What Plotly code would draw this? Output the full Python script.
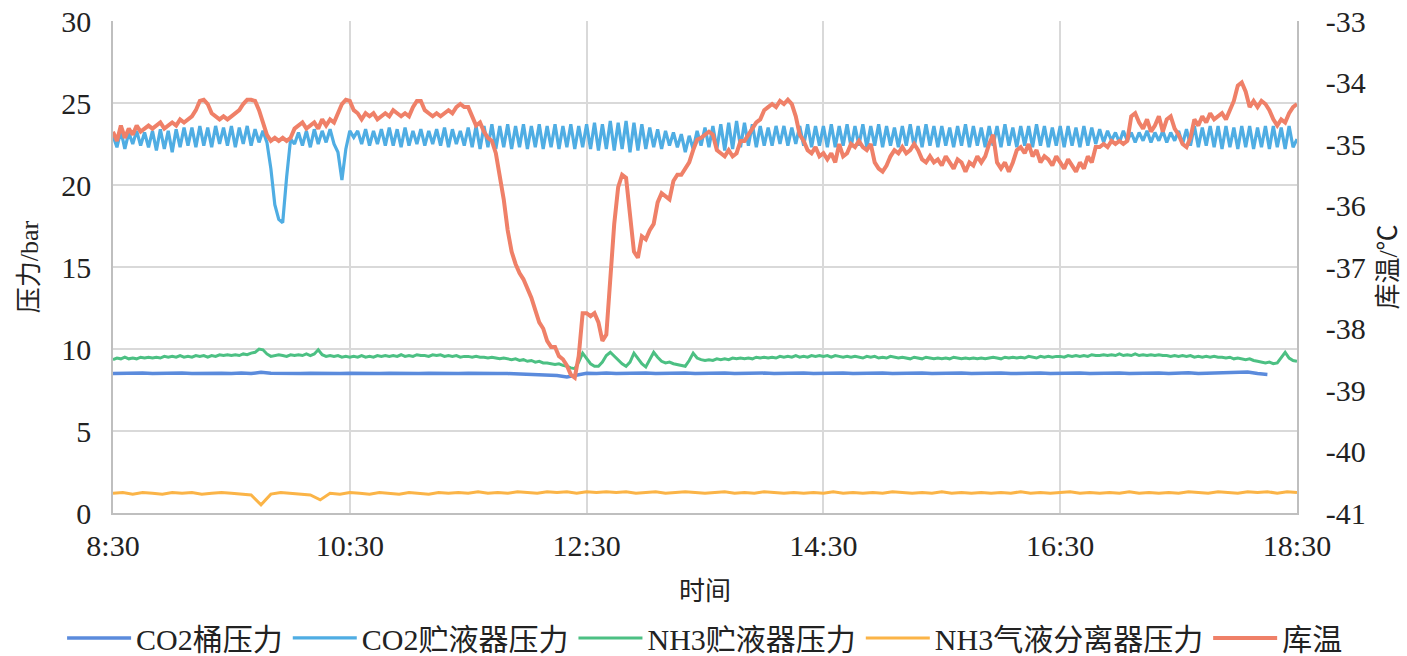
import pandas as pd
import plotly.graph_objects as go

# ---------------- data ----------------
tick_labels = ["8:30", "10:30", "12:30", "14:30", "16:30", "18:30"]
temp_tick_vals = [-41, -40, -39, -38, -37, -36, -35, -34, -33]
temp_tick_labels = ["-41", "-40", "-39", "-38", "-37", "-36", "-35", "-34", "-33"]

# 2-minute samples, 8:30 .. 18:30 (301 points)
co2_receiver = [
    23.0, 22.3, 23.3, 22.2, 23.2, 22.5, 23.3, 22.4, 23.2, 22.3,
    23.3, 22.1, 23.4, 22.2, 23.3, 22.0, 23.4, 22.3, 23.5, 22.4,
    23.5, 22.3, 23.6, 22.4, 23.5, 22.3, 23.6, 22.5, 23.5, 22.4,
    23.6, 22.3, 23.5, 22.5, 23.6, 22.4, 23.4, 22.6, 23.3, 22.6,
    21.0, 18.8, 17.9, 17.7, 20.5, 22.8, 22.5, 23.2, 22.4, 23.3,
    22.3, 23.4, 22.5, 23.3, 22.6, 23.4, 22.5, 22.0, 20.3, 22.2,
    23.3, 22.9, 23.3, 22.5, 23.4, 22.4, 23.3, 22.5, 23.4, 22.4,
    23.5, 22.4, 23.4, 22.3, 23.5, 22.4, 23.3, 22.5, 23.4, 22.4,
    23.3, 22.5, 23.4, 22.4, 23.5, 22.3, 23.4, 22.5, 23.3, 22.4,
    23.5, 22.3, 23.6, 22.2, 23.6, 22.3, 23.7, 22.2, 23.6, 22.3,
    23.7, 22.2, 23.6, 22.3, 23.7, 22.2, 23.6, 22.3, 23.7, 22.2,
    23.6, 22.3, 23.7, 22.2, 23.6, 22.3, 23.7, 22.2, 23.6, 22.3,
    23.7, 22.2, 23.8, 22.1, 23.7, 22.2, 23.9, 22.1, 23.8, 22.2,
    23.9, 22.0, 23.8, 22.1, 23.7, 22.2, 23.5, 22.3, 23.4, 22.2,
    23.3, 22.4, 23.2, 22.3, 23.1, 22.0, 23.0, 22.2, 23.3, 22.4,
    23.5, 22.3, 23.6, 22.2, 23.7, 22.1, 23.8, 22.2, 23.9, 22.3,
    23.8, 22.4, 23.7, 22.3, 23.6, 22.4, 23.5, 22.4, 23.6, 22.5,
    23.6, 22.4, 23.5, 22.5, 23.6, 22.4, 23.7, 22.3, 23.6, 22.4,
    23.6, 22.3, 23.7, 22.3, 23.6, 22.4, 23.7, 22.3, 23.6, 22.4,
    23.7, 22.3, 23.6, 22.4, 23.7, 22.3, 23.6, 22.4, 23.5, 22.3,
    23.6, 22.4, 23.7, 22.3, 23.6, 22.3, 23.7, 22.4, 23.6, 22.3,
    23.6, 22.4, 23.5, 22.3, 23.6, 22.4, 23.7, 22.3, 23.6, 22.4,
    23.5, 22.3, 23.6, 22.4, 23.6, 22.3, 23.7, 22.4, 23.5, 22.3,
    23.6, 22.4, 23.6, 22.3, 23.7, 22.4, 23.6, 22.3, 23.5, 22.4,
    23.6, 22.3, 23.6, 22.4, 23.5, 22.3, 23.6, 22.4, 23.5, 22.5,
    23.4, 22.6, 23.3, 22.7, 23.2, 22.6, 23.3, 22.7, 23.2, 22.6,
    23.2, 22.7, 23.3, 22.6, 23.2, 22.7, 23.3, 22.6, 23.2, 22.7,
    23.3, 22.5, 23.4, 22.4, 23.6, 22.3, 23.5, 22.4, 23.6, 22.3,
    23.6, 22.2, 23.6, 22.3, 23.5, 22.2, 23.6, 22.3, 23.6, 22.2,
    23.5, 22.3, 23.6, 22.2, 23.6, 22.3, 23.5, 22.2, 23.6, 22.3,
    22.8,
]

room_temp = [
    -34.8, -34.95, -34.7, -34.9, -34.75, -34.85, -34.7, -34.8, -34.75, -34.7,
    -34.75, -34.7, -34.65, -34.75, -34.7, -34.65, -34.7, -34.6, -34.65, -34.6,
    -34.55, -34.45, -34.3, -34.28, -34.35, -34.5, -34.55, -34.6, -34.55, -34.6,
    -34.55, -34.5, -34.45, -34.35, -34.28, -34.28, -34.3, -34.45, -34.65, -34.85,
    -34.95, -34.9, -34.95, -34.9, -34.95, -34.9, -34.75, -34.7, -34.65, -34.75,
    -34.7, -34.65, -34.75, -34.6, -34.7, -34.6, -34.65, -34.5, -34.35, -34.28,
    -34.3, -34.45, -34.5, -34.6, -34.5, -34.55, -34.5, -34.6, -34.55, -34.5,
    -34.55, -34.45, -34.5, -34.55, -34.5, -34.55, -34.4, -34.3, -34.3, -34.45,
    -34.5, -34.55, -34.5, -34.55, -34.5, -34.45, -34.5, -34.4, -34.35, -34.4,
    -34.4, -34.55, -34.7, -34.65, -34.8, -34.9, -34.95, -35.15, -35.5, -35.9,
    -36.4, -36.75, -36.95, -37.1, -37.2, -37.35, -37.5, -37.7, -37.9, -38.0,
    -38.2, -38.3, -38.3, -38.45, -38.5, -38.6, -38.75, -38.8, -38.45, -37.75,
    -37.75, -37.8, -37.75, -37.9, -38.2, -38.1, -37.2, -36.3, -35.7, -35.5,
    -35.55, -36.2, -36.75, -36.85, -36.5, -36.55, -36.4, -36.3, -35.95, -35.8,
    -35.85, -35.9, -35.6, -35.5, -35.5, -35.4, -35.3, -35.1, -34.93, -34.9,
    -34.85, -34.8, -34.85, -35.1, -35.15, -35.2, -35.1, -35.2, -35.15, -34.95,
    -34.95, -34.85, -34.75, -34.65, -34.6, -34.45, -34.4, -34.35, -34.4, -34.3,
    -34.35, -34.28, -34.35, -34.55, -34.85, -34.95, -35.1, -35.15, -35.05, -35.2,
    -35.15, -35.25, -35.15, -35.3, -35.0, -35.2, -35.15, -35.0, -35.05, -34.95,
    -35.05, -35.1, -35.0, -35.3, -35.4, -35.45, -35.35, -35.2, -35.1, -35.15,
    -35.05, -35.15, -35.1, -35.0, -35.1, -35.25, -35.3, -35.2, -35.3, -35.25,
    -35.35, -35.2, -35.3, -35.4, -35.25, -35.3, -35.45, -35.3, -35.35, -35.2,
    -35.3, -35.2, -35.0, -34.85, -35.3, -35.4, -35.3, -35.45, -35.3, -35.1,
    -35.05, -35.15, -35.0, -35.2, -35.1, -35.3, -35.2, -35.25, -35.35, -35.2,
    -35.3, -35.4, -35.25, -35.35, -35.45, -35.3, -35.4, -35.2, -35.3, -35.05,
    -35.05, -35.0, -35.05, -34.95, -35.0, -34.95, -35.0, -34.95, -34.55, -34.5,
    -34.65, -34.75, -34.6, -34.8, -34.7, -34.55, -34.8, -34.6, -34.55, -34.75,
    -34.85, -35.0, -35.05, -34.9, -34.6, -34.7, -34.55, -34.65, -34.5, -34.6,
    -34.55, -34.5, -34.6, -34.45, -34.3, -34.05, -34.0, -34.15, -34.4, -34.3,
    -34.4, -34.3, -34.35, -34.45, -34.6, -34.7, -34.6, -34.65, -34.5, -34.4,
    -34.35,
]

nh3_receiver = [
    9.35, 9.45, 9.4, 9.5, 9.4, 9.45, 9.4, 9.5, 9.45, 9.5,
    9.45, 9.5, 9.45, 9.55, 9.5, 9.55, 9.5, 9.6, 9.5, 9.55,
    9.5, 9.6, 9.55, 9.6, 9.5, 9.6, 9.55, 9.65, 9.6, 9.65,
    9.6, 9.65, 9.6, 9.7, 9.65, 9.75, 9.8, 10.0, 9.95, 9.7,
    9.55, 9.6, 9.65, 9.6, 9.55, 9.65, 9.6, 9.65, 9.6, 9.7,
    9.6, 9.7, 9.95, 9.65, 9.55, 9.6, 9.55, 9.6, 9.5, 9.55,
    9.5, 9.55, 9.5, 9.6, 9.5, 9.55, 9.5, 9.6, 9.55, 9.6,
    9.55, 9.6, 9.55, 9.65, 9.55, 9.6, 9.55, 9.65, 9.6, 9.6,
    9.55, 9.65, 9.6, 9.65, 9.55, 9.6, 9.55, 9.6, 9.5, 9.55,
    9.55, 9.5, 9.55, 9.5, 9.5, 9.45, 9.5, 9.45, 9.4, 9.45,
    9.4, 9.35, 9.4, 9.3, 9.35, 9.25, 9.3, 9.2, 9.25, 9.15,
    9.15, 9.1, 9.05, 9.1, 9.0, 8.95, 8.85, 8.8, 9.2, 9.75,
    9.4, 9.1, 8.95, 8.95, 9.2, 9.6, 9.8, 9.55, 9.3, 9.1,
    8.95, 9.2, 9.75, 9.45, 9.1, 8.9, 9.4, 9.8, 9.5, 9.25,
    9.15, 9.2, 9.1, 9.05, 9.0, 8.95, 9.3, 9.75, 9.45, 9.35,
    9.3, 9.35, 9.3, 9.4, 9.35, 9.4, 9.35, 9.45, 9.4, 9.45,
    9.4, 9.45, 9.4, 9.5, 9.45, 9.5, 9.45, 9.5, 9.45, 9.55,
    9.5, 9.55, 9.5, 9.6, 9.5, 9.55, 9.5, 9.6, 9.55, 9.6,
    9.55, 9.6, 9.5, 9.6, 9.55, 9.5, 9.55, 9.5, 9.55, 9.5,
    9.45, 9.55, 9.5, 9.55, 9.45, 9.5, 9.45, 9.55, 9.5, 9.45,
    9.5, 9.45, 9.4, 9.5, 9.45, 9.4, 9.5, 9.45, 9.4, 9.45,
    9.4, 9.45, 9.4, 9.5, 9.45, 9.4, 9.45, 9.4, 9.45, 9.4,
    9.45, 9.4, 9.45, 9.5, 9.45, 9.4, 9.5, 9.45, 9.5, 9.45,
    9.5, 9.45, 9.55, 9.5, 9.45, 9.55, 9.5, 9.55, 9.5, 9.55,
    9.55, 9.5, 9.6, 9.55, 9.6, 9.55, 9.6, 9.55, 9.65, 9.6,
    9.6, 9.65, 9.6, 9.65, 9.6, 9.7, 9.6, 9.65, 9.6, 9.7,
    9.6, 9.65, 9.6, 9.65, 9.6, 9.65, 9.6, 9.6, 9.55, 9.6,
    9.55, 9.6, 9.55, 9.6, 9.5, 9.55, 9.5, 9.55, 9.5, 9.55,
    9.5, 9.5, 9.45, 9.5, 9.4, 9.45, 9.4, 9.35, 9.4, 9.3,
    9.25, 9.2, 9.15, 9.2, 9.1, 9.15, 9.45, 9.8, 9.45, 9.3,
    9.25,
]

# 5-minute samples, 8:30 .. 18:30 (121 points)
co2_drum = [
    8.5, 8.52, 8.5, 8.53, 8.5, 8.52, 8.5, 8.53, 8.5, 8.52,
    8.5, 8.52, 8.5, 8.53, 8.5, 8.58, 8.52, 8.5, 8.53, 8.5,
    8.52, 8.5, 8.53, 8.5, 8.52, 8.5, 8.53, 8.5, 8.52, 8.5,
    8.53, 8.5, 8.52, 8.5, 8.53, 8.5, 8.52, 8.5, 8.53, 8.5,
    8.5, 8.48, 8.47, 8.45, 8.42, 8.38, 8.3, 8.42, 8.52, 8.5,
    8.53, 8.5, 8.52, 8.5, 8.53, 8.5, 8.52, 8.5, 8.53, 8.5,
    8.52, 8.5, 8.53, 8.5, 8.52, 8.5, 8.53, 8.5, 8.52, 8.5,
    8.53, 8.5, 8.52, 8.5, 8.53, 8.5, 8.52, 8.5, 8.53, 8.5,
    8.52, 8.5, 8.53, 8.5, 8.52, 8.5, 8.53, 8.5, 8.52, 8.5,
    8.53, 8.5, 8.52, 8.5, 8.53, 8.5, 8.52, 8.5, 8.53, 8.5,
    8.52, 8.5, 8.53, 8.5, 8.52, 8.5, 8.53, 8.5, 8.52, 8.55,
    8.5, 8.52, 8.5, 8.53, 8.55, 8.6, 8.5, 8.45, None, None,
    None,
]

nh3_separator = [
    1.2, 1.25, 1.15, 1.25, 1.2, 1.15, 1.25, 1.2, 1.25, 1.15,
    1.2, 1.25, 1.2, 1.15, 1.1, 0.5, 1.15, 1.25, 1.2, 1.15,
    1.1, 0.8, 1.2, 1.15, 1.25, 1.2, 1.15, 1.25, 1.2, 1.15,
    1.25, 1.2, 1.15, 1.25, 1.2, 1.25, 1.2, 1.3, 1.2, 1.25,
    1.2, 1.3, 1.25, 1.2, 1.3, 1.25, 1.3, 1.2, 1.3, 1.25,
    1.3, 1.25, 1.3, 1.2, 1.25, 1.3, 1.2, 1.25, 1.3, 1.25,
    1.2, 1.25, 1.3, 1.2, 1.25, 1.2, 1.3, 1.25, 1.2, 1.25,
    1.2, 1.25, 1.2, 1.3, 1.2, 1.25, 1.2, 1.25, 1.2, 1.3,
    1.25, 1.2, 1.25, 1.2, 1.3, 1.2, 1.25, 1.2, 1.25, 1.2,
    1.25, 1.2, 1.3, 1.2, 1.25, 1.2, 1.25, 1.3, 1.2, 1.25,
    1.2, 1.25, 1.2, 1.3, 1.2, 1.25, 1.2, 1.25, 1.2, 1.3,
    1.25, 1.2, 1.3, 1.25, 1.2, 1.3, 1.25, 1.3, 1.2, 1.3,
    1.25,
]

series_names = ["CO2桶压力", "CO2贮液器压力", "NH3贮液器压力", "NH3气液分离器压力", "库温"]

# ---------------- time axes ----------------
t2 = pd.date_range("2024-01-01 08:30", periods=len(co2_receiver), freq="2min")
t5 = pd.date_range("2024-01-01 08:30", periods=len(co2_drum), freq="5min")
tick_vals = pd.date_range("2024-01-01 08:30", periods=len(tick_labels), freq="2h")

FONT = "Liberation Serif, Noto Sans CJK SC, serif"
TXT = "#222222"
GRID = "#D9D9D9"

fig = go.Figure()
fig.add_trace(go.Scatter(x=t5, y=co2_drum, name=series_names[0], mode="lines",
                         line=dict(color="#5B8BDC", width=3.5)))
fig.add_trace(go.Scatter(x=t2, y=co2_receiver, name=series_names[1], mode="lines",
                         line=dict(color="#4FADE3", width=3.2)))
fig.add_trace(go.Scatter(x=t2, y=nh3_receiver, name=series_names[2], mode="lines",
                         line=dict(color="#4CC083", width=3)))
fig.add_trace(go.Scatter(x=t5, y=nh3_separator, name=series_names[3], mode="lines",
                         line=dict(color="#FBB447", width=3)))
fig.add_trace(go.Scatter(x=t2, y=room_temp, name=series_names[4], mode="lines",
                         line=dict(color="#EF8068", width=4), yaxis="y2"))

fig.update_layout(
    width=1407, height=656,
    margin=dict(l=113, r=110, t=21, b=143, autoexpand=False),
    paper_bgcolor="white", plot_bgcolor="white",
    font=dict(family=FONT, size=29, color=TXT),
    showlegend=True,
    legend=dict(orientation="h", x=-0.043, xanchor="left", y=-0.254, yanchor="middle",
                font=dict(family=FONT, size=30, color=TXT), itemwidth=64,
                traceorder="normal", bgcolor="rgba(0,0,0,0)"),
    xaxis=dict(
        type="date", automargin=False,
        range=[tick_vals[0], tick_vals[-1]],
        tickvals=tick_vals, ticktext=tick_labels,
        showgrid=True, gridcolor=GRID, gridwidth=1.5,
        showline=True, linecolor="#BFBFBF", linewidth=1.5,
        zeroline=False, ticks="", ticklabelstandoff=5,
        tickfont=dict(family=FONT, size=30, color=TXT),
        title=dict(text="时间", font=dict(family=FONT, size=26, color=TXT), standoff=21),
    ),
    yaxis=dict(
        range=[0, 30], dtick=5, tick0=0, automargin=False,
        showgrid=True, gridcolor=GRID, gridwidth=1.5,
        showline=True, linecolor="#BFBFBF", linewidth=1.5,
        zeroline=False, ticks="", ticklabelstandoff=14,
        tickfont=dict(family=FONT, size=30, color=TXT),
        title=dict(text="压力/bar", font=dict(family=FONT, size=26, color=TXT), standoff=15),
    ),
    yaxis2=dict(
        overlaying="y", side="right", automargin=False,
        range=[-41, -33], tickvals=temp_tick_vals, ticktext=temp_tick_labels,
        showgrid=False, zeroline=False,
        showline=True, linecolor="#BFBFBF", linewidth=1.5,
        ticks="", ticklabelstandoff=21,
        tickfont=dict(family=FONT, size=30, color=TXT),
        title=dict(text="库温/℃", font=dict(family=FONT, size=26, color=TXT), standoff=14),
    ),
)

fig.write_html(
    "out.html",
    config={"displayModeBar": False},
    post_script="document.body.style.margin='0';document.body.style.overflow='hidden';",
)
